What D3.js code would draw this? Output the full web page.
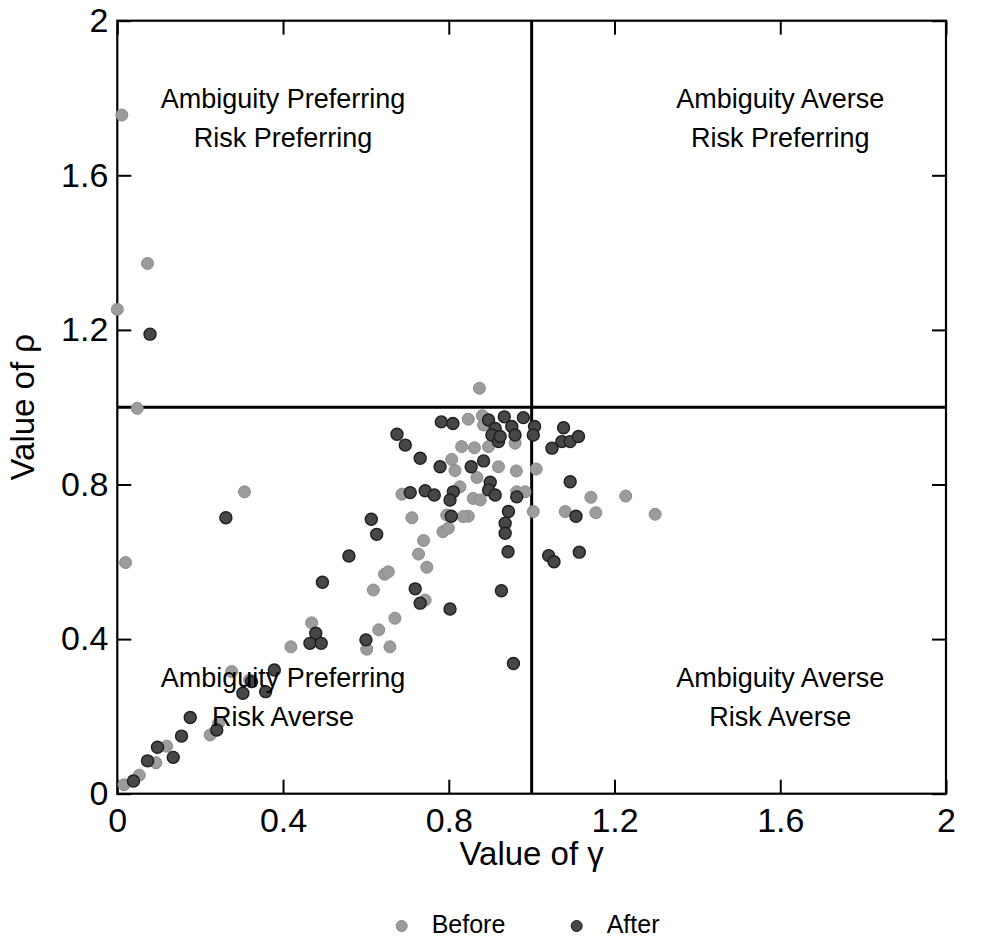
<!DOCTYPE html>
<html>
<head>
<meta charset="utf-8">
<script src="https://cdn.jsdelivr.net/npm/d3@7"></script>
<style>
  html, body { margin: 0; padding: 0; background: #fff; }
  svg { display: block; font-family: "Liberation Sans", Arial, sans-serif; }
</style>
</head>
<body>
<svg id="chart" width="1000" height="947"></svg>
<script>
// ---- data (gamma, rho) ----
const beforeGamma = [0.011,0.073,0.000,0.048,0.307,0.020,0.874,0.847,0.881,0.884,0.831,0.862,0.896,0.960,0.807,0.815,0.920,0.963,1.011,0.868,0.827,0.964,0.984,0.859,0.876,0.847,0.795,0.835,1.004,1.081,1.143,1.227,1.155,1.298,0.786,0.799,0.739,0.727,0.747,0.743,0.687,0.711,0.645,0.654,0.618,0.670,0.631,0.469,0.602,0.658,0.419,0.276,0.319,0.224,0.244,0.119,0.093,0.053,0.016];
const beforeRho   = [1.756,1.372,1.253,0.997,0.781,0.598,1.049,0.969,0.978,0.954,0.898,0.895,0.898,0.907,0.865,0.836,0.846,0.835,0.840,0.818,0.794,0.781,0.781,0.764,0.760,0.718,0.721,0.717,0.730,0.730,0.767,0.770,0.727,0.723,0.678,0.687,0.655,0.620,0.586,0.501,0.775,0.714,0.568,0.574,0.527,0.454,0.424,0.442,0.374,0.380,0.380,0.316,0.294,0.152,0.182,0.123,0.080,0.048,0.023];
const afterGamma  = [0.079,0.262,0.896,0.934,0.980,0.912,0.904,0.920,0.952,0.960,0.924,1.007,1.004,1.077,1.049,1.073,1.093,1.113,0.854,0.884,0.900,0.896,0.912,0.964,1.093,0.944,0.936,0.936,0.943,1.107,1.041,1.054,1.115,0.927,0.956,0.782,0.810,0.675,0.695,0.731,0.779,0.707,0.743,0.765,0.811,0.803,0.806,0.719,0.731,0.803,0.613,0.626,0.559,0.495,0.600,0.479,0.465,0.492,0.379,0.324,0.303,0.358,0.176,0.240,0.155,0.097,0.135,0.073,0.039];
const afterRho    = [1.189,0.714,0.967,0.975,0.973,0.945,0.928,0.911,0.950,0.928,0.924,0.950,0.928,0.947,0.894,0.911,0.911,0.924,0.846,0.861,0.806,0.786,0.773,0.768,0.807,0.730,0.700,0.674,0.626,0.718,0.616,0.600,0.625,0.525,0.337,0.962,0.958,0.930,0.902,0.868,0.846,0.779,0.784,0.773,0.781,0.760,0.718,0.530,0.493,0.478,0.710,0.671,0.615,0.547,0.398,0.415,0.389,0.389,0.320,0.290,0.260,0.264,0.197,0.165,0.149,0.120,0.094,0.085,0.033];
const tickValues  = [0, 0.4, 0.8, 1.2, 1.6, 2];
const tickLabels  = ["0", "0.4", "0.8", "1.2", "1.6", "2"];
const seriesNames = ["Before", "After"];
const quadrantLabels = [
  { gx: 0.4, ry: 1.774, lines: ["Ambiguity Preferring", "Risk Preferring"] },
  { gx: 1.6, ry: 1.774, lines: ["Ambiguity Averse", "Risk Preferring"] },
  { gx: 0.4, ry: 0.275, lines: ["Ambiguity Preferring", "Risk Averse"] },
  { gx: 1.6, ry: 0.275, lines: ["Ambiguity Averse", "Risk Averse"] }
];

// ---- layout ----
const L = 117.3, T = 20.7, R = 946, B = 793.7;
const svg = d3.select("#chart");
const x = d3.scaleLinear().domain([0, 2]).range([L, R]);
const y = d3.scaleLinear().domain([0, 2]).range([B, T]);
const fmt = d => tickLabels[tickValues.indexOf(d)];

// axes (inward ticks)
const gB = svg.append("g").attr("transform", `translate(0,${B})`)
  .call(d3.axisBottom(x).tickValues(tickValues).tickSize(-14).tickPadding(14).tickFormat(fmt));
const gL = svg.append("g").attr("transform", `translate(${L},0)`)
  .call(d3.axisLeft(y).tickValues(tickValues).tickSize(-14).tickPadding(9).tickFormat(fmt));
const gT = svg.append("g").attr("transform", `translate(0,${T})`)
  .call(d3.axisTop(x).tickValues(tickValues).tickSize(-14).tickFormat(""));
const gR = svg.append("g").attr("transform", `translate(${R},0)`)
  .call(d3.axisRight(y).tickValues(tickValues).tickSize(-14).tickFormat(""));
[gB, gL, gT, gR].forEach(g => {
  g.select(".domain").remove();
  g.selectAll(".tick line").attr("stroke", "#000").attr("stroke-width", 2);
  g.selectAll(".tick text").attr("fill", "#000").style("font-size", "34px")
    .style("font-family", "'Liberation Sans', Arial, sans-serif");
});

// frame
svg.append("rect").attr("x", L).attr("y", T).attr("width", R - L).attr("height", B - T)
  .attr("fill", "none").attr("stroke", "#000").attr("stroke-width", 2.2);

// quadrant lines
svg.append("line").attr("x1", x(1)).attr("x2", x(1)).attr("y1", y(0)).attr("y2", y(2))
  .attr("stroke", "#000").attr("stroke-width", 3);
svg.append("line").attr("x1", x(0)).attr("x2", x(2)).attr("y1", y(1)).attr("y2", y(1))
  .attr("stroke", "#000").attr("stroke-width", 3);

// points
const styles = {
  Before: { fill: "#9c9c9c", stroke: "#8a8a8a" },
  After:  { fill: "#474747", stroke: "#1e1e1e" }
};
const beforeData = beforeGamma.map((g, i) => ({ g, r: beforeRho[i] }));
const afterData  = afterGamma.map((g, i) => ({ g, r: afterRho[i] }));
svg.append("g").selectAll("circle").data(beforeData).join("circle")
  .attr("cx", d => x(d.g)).attr("cy", d => y(d.r)).attr("r", 6)
  .attr("fill", styles.Before.fill).attr("stroke", styles.Before.stroke).attr("stroke-width", 1);
svg.append("g").selectAll("circle").data(afterData).join("circle")
  .attr("cx", d => x(d.g)).attr("cy", d => y(d.r)).attr("r", 6)
  .attr("fill", styles.After.fill).attr("stroke", styles.After.stroke).attr("stroke-width", 1.4);

// quadrant labels
quadrantLabels.forEach(q => {
  q.lines.forEach((t, i) => {
    svg.append("text").attr("x", x(q.gx)).attr("y", y(q.ry) + i * 38.5)
      .attr("text-anchor", "middle").style("font-size", "27px").attr("fill", "#000").text(t);
  });
});

// axis titles
svg.append("text").attr("x", (L + R) / 2).attr("y", 865).attr("text-anchor", "middle")
  .style("font-size", "33px").text("Value of γ");
svg.append("text").attr("transform", `translate(34,${(T + B) / 2}) rotate(-90)`)
  .attr("text-anchor", "middle").style("font-size", "33px").text("Value of ρ");

// legend
const legendX = [401.7, 576.7];
seriesNames.forEach((name, i) => {
  svg.append("circle").attr("cx", legendX[i]).attr("cy", 926).attr("r", 5.5)
    .attr("fill", styles[name].fill).attr("stroke", styles[name].stroke);
  svg.append("text").attr("x", legendX[i] + 30).attr("y", 933.3)
    .style("font-size", "25px").text(name);
});
</script>
</body>
</html>
